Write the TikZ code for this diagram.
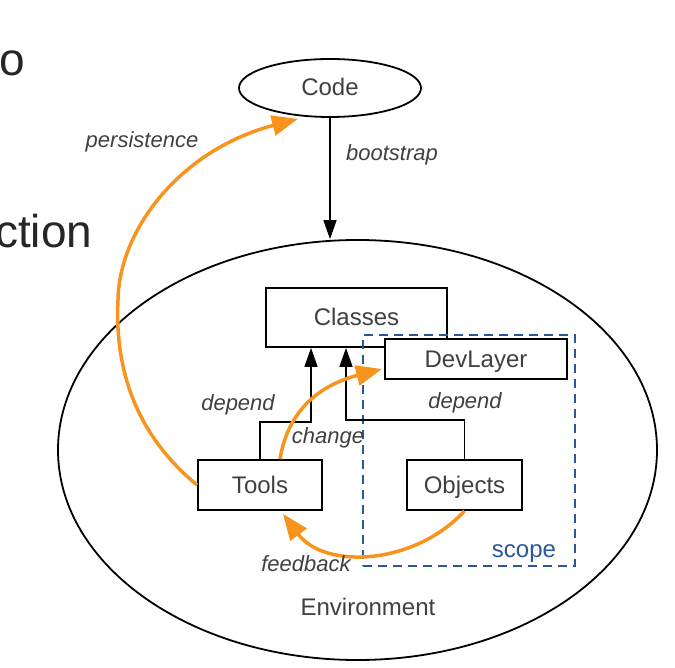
\documentclass[tikz,border=0pt]{standalone}
\usepackage{fontspec}
\setmainfont{Liberation Sans}
\usetikzlibrary{arrows.meta}
\usetikzlibrary{shapes.geometric}
\usetikzlibrary{calc}
\definecolor{ink}{RGB}{64,64,64}
\definecolor{flow}{RGB}{247,148,30}
\definecolor{scopeblue}{RGB}{43,87,151}

\begin{document}
\begin{tikzpicture}[x=1pt,y=-1pt,
        box/.style={draw,line width=1.8pt,fill=white,text=ink,inner sep=0pt,text height=17pt,text depth=1pt,font=\fontsize{24}{28}\selectfont},
        lbl/.style={anchor=base,text=ink,inner sep=1pt,font=\fontsize{22}{26}\selectfont\itshape},
        dep/.style={line width=1.6pt,-{Triangle[width=13pt,length=19pt]}},
        flowarrow/.style={flow,line width=3.5pt,-{Triangle[width=20pt,length=26pt]}}]
    \useasboundingbox (0,0) rectangle (675,668);
    % slide text cut off at the left
    \node[anchor=base west,inner sep=0pt,text=black!85,font=\fontsize{46}{50}\selectfont] (slidetop) at (-1,76) {o};
    \node[anchor=base west,inner sep=0pt,text=black!85,font=\fontsize{46}{50}\selectfont] (slidemid) at (-5,248) {ction};
    % shapes
    \node[draw,ellipse,line width=1.8pt,minimum width=599pt,minimum height=420pt] (env) at (357.5,450) {};
    \node[box,ellipse,minimum width=182pt,minimum height=58pt] (code) at (330,88) {Code};
    \node[box,minimum width=181pt,minimum height=59pt] (classes) at (356.5,317.5) {Classes};
    \node[draw=scopeblue,line width=1.8pt,dash pattern=on 9pt off 6pt,minimum width=212pt,minimum height=231pt] (scope) at (469,450.5) {};
    \node[box,minimum width=182pt,minimum height=40pt] (devlayer) at (476,359) {DevLayer};
    \node[box,minimum width=124pt,minimum height=50pt] (tools) at (260,485) {Tools};
    \node[box,minimum width=115pt,minimum height=50pt] (objects) at (464.5,485) {Objects};
    % black connectors
    \coordinate (toolsknee) at (311,422);
    \coordinate (objknee) at (346,420);
    \draw[dep] (code.south) -- (code.south |- env.north);
    \draw[dep] (tools.north) |- (toolsknee) -- (toolsknee |- classes.south);
    \draw[dep] (objects.north) |- (objknee) -- (objknee |- classes.south);
    % orange flows
    \draw[flowarrow] ($(tools.north)+(20,0)$) .. controls (288,410) and (320,385) .. ($(devlayer.west)+(-2,10)$);
    \draw[flowarrow] (tools.west) .. controls (130,430) and (115,360) .. (118,300)
        .. controls (119,230) and (180,150) .. ($(code.south)+(-32,1)$);
    \draw[flowarrow] (objects.south) .. controls (415,565) and (325,570) .. ($(tools.south)+(23,3)$);
    % labels
    \node[lbl] (bootlbl) at (392,161) {bootstrap};
    \node[lbl] (perslbl) at (142,148) {persistence};
    \node[lbl] (deplbl) at (238,410) {depend};
    \node[lbl] (objdeplbl) at (465,409) {depend};
    \node[lbl] (changelbl) at (328,443) {change};
    \node[lbl] (feedlbl) at (306,571) {feedback};
    \node[anchor=base,text=ink,font=\fontsize{24}{28}\selectfont] (envlbl) at (368,615) {Environment};
    \node[anchor=base,text=scopeblue,font=\fontsize{24}{28}\selectfont] (scopelbl) at (524,557) {scope};
\end{tikzpicture}
\end{document}
